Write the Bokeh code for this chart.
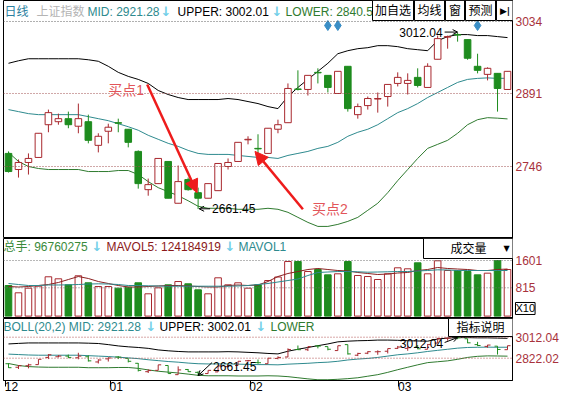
from bokeh.plotting import figure
from bokeh.models import Range1d, FixedTicker, Span, Label, BoxAnnotation, Arrow, NormalHead, OpenHead
from bokeh.layouts import column
from bokeh.embed import file_html
from bokeh.resources import INLINE

# ---------------- data ----------------
opens = [2772, 2740, 2754, 2764, 2829, 2835, 2841, 2826, 2835, 2788, 2816, 2833, 2820, 2776, 2700, 2712, 2756,
         2673, 2720, 2694, 2683, 2698, 2746, 2756, 2799, 2782, 2772, 2820, 2833, 2900, 2899, 2933, 2927, 2891,
         2945, 2849, 2867, 2880, 2885, 2911, 2911, 2923, 2903, 2959, 3003, 3008, 2998, 2945, 2929, 2931, 2899]
closes = [2736, 2754, 2762, 2812, 2853, 2841, 2829, 2841, 2798, 2806, 2824, 2832, 2794, 2712, 2710, 2762, 2683,
          2716, 2700, 2683, 2712, 2752, 2754, 2794, 2800, 2781, 2822, 2829, 2901, 2899, 2927, 2932, 2903, 2935,
          2861, 2865, 2881, 2881, 2909, 2923, 2917, 2907, 2945, 3000, 3004, 3007, 2961, 2937, 2941, 2901, 2935]
highs = [2776, 2760, 2772, 2812, 2859, 2851, 2855, 2871, 2849, 2812, 2831, 2841, 2820, 2778, 2722, 2762, 2756,
         2748, 2724, 2704, 2712, 2752, 2762, 2794, 2806, 2810, 2822, 2839, 2911, 2937, 2927, 2941, 2927, 2935,
         2945, 2871, 2885, 2893, 2909, 2933, 2931, 2941, 2951, 3006, 3006, 3012.04, 2998, 2970, 2943, 2931, 2935]
lows = [2734, 2724, 2730, 2764, 2814, 2829, 2822, 2812, 2792, 2774, 2792, 2814, 2784, 2702, 2688, 2712, 2683,
        2673, 2698, 2661.45, 2683, 2698, 2740, 2756, 2790, 2772, 2772, 2812, 2833, 2897, 2887, 2911, 2893, 2891,
        2855, 2841, 2859, 2853, 2865, 2905, 2889, 2903, 2903, 2959, 2980, 2994, 2958, 2931, 2917, 2855, 2899]
boll_upper = [2951, 2956, 2960, 2960, 2960, 2960, 2960, 2960, 2958, 2955, 2945, 2933, 2925, 2919, 2911, 2897,
              2889, 2883, 2879, 2879, 2879, 2879, 2881, 2879, 2875, 2871, 2865, 2861, 2885, 2903, 2919, 2935,
              2951, 2970, 2976, 2980, 2982, 2986, 2986, 2984, 2980, 2978, 2976, 2996, 3004, 3008, 3008, 3006,
              3006, 3004, 3002.01]
boll_mid = [2859, 2855, 2851, 2849, 2849, 2849, 2849, 2849, 2845, 2841, 2837, 2831, 2825, 2818, 2808, 2800,
            2792, 2786, 2778, 2772, 2770, 2770, 2770, 2768, 2766, 2764, 2764, 2762, 2768, 2772, 2776, 2782,
            2786, 2794, 2806, 2814, 2820, 2829, 2841, 2853, 2861, 2871, 2883, 2893, 2903, 2913, 2919, 2921,
            2922, 2921, 2921.28]
boll_lower = [2774, 2756, 2746, 2742, 2740, 2740, 2740, 2740, 2736, 2736, 2736, 2738, 2738, 2730, 2716, 2704,
              2696, 2688, 2678, 2667, 2663, 2663, 2663, 2661, 2661, 2661, 2663, 2661, 2655, 2645, 2635, 2627,
              2627, 2631, 2637, 2645, 2659, 2673, 2694, 2718, 2740, 2762, 2782, 2790, 2798, 2812, 2829, 2839,
              2843, 2842, 2840.5]
volume = [881, 671, 804, 861, 1132, 1074, 901, 1161, 959, 852, 852, 804, 832, 959, 642, 815, 901, 996, 930, 757,
          642, 1103, 901, 959, 804, 901, 1025, 1126, 1572, 1572, 1284, 1342, 1189, 1218, 1572, 1169, 1140, 1054,
          1218, 1391, 1362, 1535, 1218, 1593, 1313, 1313, 1284, 1189, 1236, 1601, 1342]
mavol5 = [852, 838, 852, 881, 910, 968, 1054, 1140, 1083, 996, 939, 881, 838, 838, 852, 867, 881, 881, 867, 852,
          838, 838, 881, 896, 881, 896, 996, 1140, 1227, 1284, 1342, 1371, 1342, 1313, 1299, 1256, 1227, 1198,
          1212, 1241, 1256, 1313, 1342, 1400, 1371, 1356, 1342, 1313, 1313, 1342, 1356]
mavol10 = [939, 910, 881, 881, 896, 896, 901, 910, 924, 930, 924, 910, 881, 881, 873, 867, 861, 861, 861, 861,
           861, 861, 861, 867, 881, 910, 939, 982, 1025, 1068, 1169, 1256, 1270, 1284, 1284, 1276, 1264, 1270,
           1276, 1284, 1284, 1299, 1313, 1333, 1328, 1313, 1313, 1313, 1313, 1313, 1313]
signal_idx = [32, 33, 47]
price_ticks = [2746, 2891, 3034]
vol_ticks = [815, 1601]
boll_ticks = [2822.02, 3012.04]
month_labels = ["12", "01", "02", "03"]
month_ticks = [-0.3, 10.2, 24.2, 39.1]

# ---------------- styling ----------------
n = len(opens)
idx = list(range(n))
RED = "#A8282E"
GREEN = "#1E8C1E"
TEAL = "#2E8A8E"
DKGREEN = "#2F7A2F"
AXC = "#A8323C"
CYAN = "#72CFE8"
FONT = "Liberation Sans, Noto Sans CJK SC"
up = [c >= o for o, c in zip(opens, closes)]
col = [RED if u else GREEN for u in up]
fill = ["white" if u else GREEN for u in up]
btop = [max(o, c) for o, c in zip(opens, closes)]
bbot = [min(o, c) for o, c in zip(opens, closes)]

W = 565
XR = Range1d(-0.5, 50.5)


def mkfig(h, y0, y1, bottom=0, below=False):
    p = figure(width=W, height=h, x_range=XR, y_range=Range1d(y0, y1), output_backend="svg",
               toolbar_location=None, y_axis_location="right",
               x_axis_location="below" if below else None,
               min_border_left=3, min_border_right=52, min_border_top=0, min_border_bottom=bottom,
               background_fill_color="white", border_fill_color="white", outline_line_color="black")
    p.grid.visible = False
    ax = p.yaxis[0]
    ax.major_tick_line_color = None
    ax.minor_tick_line_color = None
    ax.major_tick_out = 0
    ax.major_tick_in = 0
    ax.major_label_standoff = 3
    ax.axis_line_color = "black"
    ax.major_label_text_color = AXC
    ax.major_label_text_font = FONT
    ax.major_label_text_font_size = "12px"
    return p


def txt(p, top, fh, x, yc, s, color, size="12px", align="left", font=FONT, style="normal"):
    p.add_layout(Label(x=x - 3, y=fh - (yc - top), x_units="screen", y_units="screen", text=s,
                       text_color=color, text_font_size=size, text_font=font, text_baseline="middle",
                       text_align=align, text_font_style=style))


def box(p, top, fh, x0, x1, y0, y1):
    p.add_layout(BoxAnnotation(left=x0 - 3, right=x1 - 3, top=fh - (y0 - top), bottom=fh - (y1 - top),
                               left_units="screen", right_units="screen", top_units="screen",
                               bottom_units="screen", fill_color="white", fill_alpha=1,
                               line_color="black", line_width=1, line_alpha=1))


# ---------------- main price panel ----------------
HA = 238
pA = mkfig(HA, 2603.0, 3075.7)
pA.yaxis[0].ticker = FixedTicker(ticks=price_ticks)
for t in price_ticks:
    pA.add_layout(Span(location=t, dimension="width", line_color="#606060" if t == max(price_ticks) else "#A05050",
                       line_dash="1 2", line_width=1))
pA.line(idx, boll_upper, line_color="black", line_width=1)
pA.line(idx, boll_mid, line_color=TEAL, line_width=1)
pA.line(idx, boll_lower, line_color=DKGREEN, line_width=1)
pA.segment(x0=idx, y0=highs, x1=idx, y1=lows, line_color=col, line_width=1)
pA.vbar(x=idx, width=0.66, top=btop, bottom=bbot, fill_color=fill, line_color=col, line_width=1)
pA.scatter(x=signal_idx, y=[3026] * len(signal_idx), marker="diamond", size=10, color="#3A8EC6")

pA.add_layout(Arrow(end=OpenHead(size=5, line_width=1, line_color="black"), x_start=20.2, y_start=2662,
                    x_end=19.1, y_end=2662, line_color="black", line_width=1))
pA.add_layout(Label(x=20.4, y=2663, text="2661.45", text_font=FONT, text_font_size="12px",
                    text_baseline="middle", text_color="black"))
pA.add_layout(Arrow(end=OpenHead(size=5, line_width=1, line_color="black"), x_start=43.7, y_start=3013,
                    x_end=45.0, y_end=3013, line_color="black", line_width=1))
pA.add_layout(Label(x=43.5, y=3013, text="3012.04", text_font=FONT, text_font_size="12px",
                    text_baseline="middle", text_align="right", text_color="black"))

ARROWRED = "#EE1C1C"
pA.add_layout(Arrow(end=NormalHead(size=13, fill_color=ARROWRED, line_color=ARROWRED), x_start=13.9,
                    y_start=2909, x_end=18.9, y_end=2694, line_color=ARROWRED, line_width=2.5))
pA.add_layout(Arrow(end=NormalHead(size=13, fill_color=ARROWRED, line_color=ARROWRED), x_start=29.5,
                    y_start=2661, x_end=24.7, y_end=2776, line_color=ARROWRED, line_width=2.5))
pA.add_layout(Label(x=10.0, y=2897, text="买点1", text_font=FONT, text_font_size="14px",
                    text_baseline="middle", text_color="#E2555A"))
pA.add_layout(Label(x=30.4, y=2661, text="买点2", text_font=FONT, text_font_size="14px",
                    text_baseline="middle", text_color="#E2555A"))

txt(pA, 0, HA, 4, 11, "日线", "#2A7FA0")
txt(pA, 0, HA, 36, 11, "上证指数", "#B4B4B4")
txt(pA, 0, HA, 87, 11, "MID: 2921.28", TEAL)
txt(pA, 0, HA, 160, 11, "↓", CYAN, size="13px", font="DejaVu Sans", style="bold")
txt(pA, 0, HA, 177, 11, "UPPER: 3002.01", "black")
txt(pA, 0, HA, 271, 11, "↓", CYAN, size="13px", font="DejaVu Sans", style="bold")
txt(pA, 0, HA, 285, 11, "LOWER: 2840.5", DKGREEN)
buttons = [("加自选", 372, 413), ("均线", 414, 444), ("窗", 445, 464), ("预测", 465, 495), ("▶|", 496, 513)]
for s, x0, x1 in buttons:
    box(pA, 0, HA, x0, x1, 0, 20)
for s, x0, x1 in buttons:
    if s == "▶|":
        txt(pA, 0, HA, (x0 + x1) / 2, 10, s, "black", size="9px", align="center", font="DejaVu Sans",
            style="bold")
    else:
        txt(pA, 0, HA, (x0 + x1) / 2, 10, s, "black", align="center")

# ---------------- volume panel ----------------
HB = 80
pB = mkfig(HB, -69.1, 2234.9)
pB.yaxis[0].ticker = FixedTicker(ticks=vol_ticks)
for t in vol_ticks:
    pB.add_layout(Span(location=t, dimension="width", line_color="#707070", line_dash="1 2", line_width=1))
pB.vbar(x=idx, width=0.66, top=volume, bottom=0, fill_color=fill, line_color=col, line_width=1)
pB.line(idx, mavol5, line_color="#8B2020", line_width=1)
pB.line(idx, mavol10, line_color=TEAL, line_width=1)
txt(pB, 238, HB, 3, 246, "总手: 96760275", "#3A8A3A")
txt(pB, 238, HB, 91, 246, "↓", CYAN, size="13px", font="DejaVu Sans", style="bold")
txt(pB, 238, HB, 106, 246, "MAVOL5: 124184919", "#8B1A1A")
txt(pB, 238, HB, 224, 246, "↓", CYAN, size="13px", font="DejaVu Sans", style="bold")
txt(pB, 238, HB, 238, 246, "MAVOL1", TEAL)
box(pB, 238, HB, 423, 513, 238, 258)
txt(pB, 238, HB, 468, 248, "成交量", "black", align="center")
txt(pB, 238, HB, 506, 248, "▼", "black", size="8px", align="center", font="DejaVu Sans")
# unit tag sits in the axis area (side panel, so it is not clipped to the frame)
pB.add_layout(Label(x=50.8, y=219, text="X10", text_font=FONT, text_font_size="11px",
                    text_baseline="middle", text_color="black",
                    border_line_color="black", background_fill_color="white"), "right")

# ---------------- BOLL panel ----------------
HC = 77
FC = 62
pC = mkfig(HC, 2620.2, 3181.3, bottom=15, below=True)
pC.yaxis[0].ticker = FixedTicker(ticks=boll_ticks)
pC.yaxis[0].major_label_overrides = {t: f"{t:.2f}" for t in boll_ticks}
for t in boll_ticks:
    pC.add_layout(Span(location=t, dimension="width", line_color="#B05050", line_dash="1 2", line_width=1))
pC.line(idx, boll_upper, line_color="black", line_width=1)
pC.line(idx, boll_mid, line_color=TEAL, line_width=1)
pC.line(idx, boll_lower, line_color=DKGREEN, line_width=1)
pC.segment(x0=idx, y0=highs, x1=idx, y1=lows, line_color=col, line_width=1)
pC.segment(x0=[i - 0.3 for i in idx], y0=opens, x1=idx, y1=opens, line_color=col, line_width=1)
pC.segment(x0=idx, y0=closes, x1=[i + 0.3 for i in idx], y1=closes, line_color=col, line_width=1)
pC.add_layout(Arrow(end=OpenHead(size=5, line_width=1, line_color="black"), x_start=20.4, y_start=2783,
                    x_end=19.0, y_end=2665, line_color="black", line_width=1))
pC.add_layout(Label(x=20.5, y=2747, text="2661.45", text_font=FONT, text_font_size="12px",
                    text_baseline="middle", text_color="black"))
pC.add_layout(Arrow(end=OpenHead(size=5, line_width=1, line_color="black"), x_start=43.7, y_start=2964,
                    x_end=45.0, y_end=3009, line_color="black", line_width=1))
pC.add_layout(Label(x=39.2, y=2955, text="3012.04", text_font=FONT, text_font_size="12px",
                    text_baseline="middle", text_color="black"))
txt(pC, 318, FC, 3, 326, "BOLL(20,2) MID: 2921.28", TEAL)
txt(pC, 318, FC, 145, 326, "↓", CYAN, size="13px", font="DejaVu Sans", style="bold")
txt(pC, 318, FC, 159, 326, "UPPER: 3002.01", "black")
txt(pC, 318, FC, 255, 326, "↓", CYAN, size="13px", font="DejaVu Sans", style="bold")
txt(pC, 318, FC, 270, 326, "LOWER", DKGREEN)
box(pC, 318, FC, 448, 513, 318, 336)
txt(pC, 318, FC, 480, 327, "指标说明", "black", align="center")

# month axis: tick marks at the month starts (minor ticks), labels just to their right (major ticks)
label_pos = [t + 0.6 for t in month_ticks]
xa = pC.xaxis[0]
xa.ticker = FixedTicker(ticks=label_pos, minor_ticks=month_ticks)
xa.major_label_overrides = {t: l for t, l in zip(label_pos, month_labels)}
xa.major_tick_line_color = None
xa.major_tick_out = 0
xa.major_tick_in = 0
xa.minor_tick_line_color = "black"
xa.minor_tick_out = 6
xa.minor_tick_in = 0
xa.axis_line_color = "black"
xa.major_label_standoff = -5
xa.major_label_text_font = FONT
xa.major_label_text_font_size = "12px"
xa.major_label_text_color = "black"

layout = column(pA, pB, pC, spacing=0)
open("out.html", "w").write(file_html(layout, INLINE))
